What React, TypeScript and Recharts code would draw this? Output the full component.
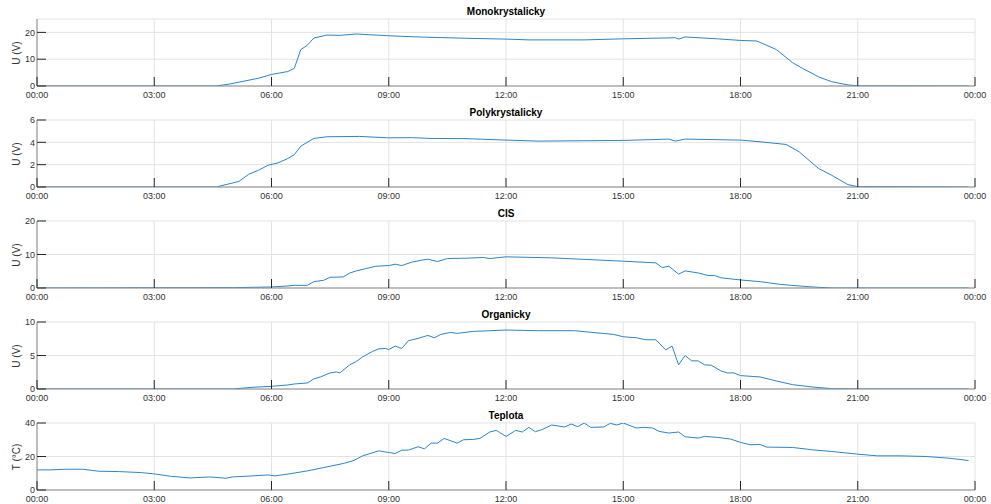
import { LineChart, Line, XAxis, YAxis, CartesianGrid } from 'recharts'

// x axis: hours of the day
const xTicks = [0, 3, 6, 9, 12, 15, 18, 21, 24]
const xTickLabels = ['00:00', '03:00', '06:00', '09:00', '12:00', '15:00', '18:00', '21:00', '00:00']

// Monokrystalicky panel
const monoTime = ['00:00', '04:35', '04:55', '05:40', '06:00', '06:25', '06:35', '06:45', '06:55', '07:05', '07:25', '07:45', '08:10', '09:00', '09:45', '11:00', '12:00', '12:35', '14:00', '15:00', '16:20', '16:25', '16:35', '17:25', '18:00', '18:25', '18:55', '19:20', '19:35', '20:00', '20:20', '20:45', '21:00', '23:50']
const monoU = [0, 0, 0.7, 2.9, 4.3, 5.4, 6.6, 13.6, 15.2, 17.9, 19.0, 18.9, 19.4, 18.75, 18.3, 17.8, 17.5, 17.2, 17.2, 17.6, 18.0, 17.5, 18.3, 17.6, 17.0, 16.8, 13.6, 8.7, 6.6, 3.4, 1.6, 0.4, 0.05, 0]

// Polykrystalicky panel
const polyTime = ['00:00', '04:35', '05:10', '05:25', '05:40', '05:55', '06:10', '06:25', '06:35', '06:45', '07:05', '07:25', '08:15', '09:00', '09:35', '10:05', '11:00', '12:00', '12:50', '15:00', '16:10', '16:20', '16:35', '18:00', '18:30', '19:10', '19:30', '20:00', '20:20', '20:45', '21:00', '23:50']
const polyU = [0, 0, 0.5, 1.14, 1.5, 1.95, 2.16, 2.55, 2.9, 3.66, 4.35, 4.5, 4.53, 4.4, 4.42, 4.35, 4.33, 4.2, 4.11, 4.17, 4.29, 4.11, 4.29, 4.2, 4.05, 3.81, 3.15, 1.65, 1.05, 0.21, 0.03, 0]

// CIS panel
const cisTime = ['00:00', '05:00', '06:00', '06:25', '06:35', '06:55', '07:05', '07:20', '07:30', '07:50', '08:00', '08:10', '08:25', '08:40', '09:00', '09:10', '09:20', '09:35', '09:50', '10:00', '10:15', '10:30', '11:00', '11:25', '11:35', '12:00', '13:10', '15:00', '15:50', '16:00', '16:10', '16:25', '16:35', '16:55', '17:10', '17:20', '17:30', '18:00', '18:30', '19:00', '19:30', '20:00', '20:20', '23:50']
const cisU = [0, 0.1, 0.3, 0.6, 0.8, 0.8, 1.9, 2.3, 3.2, 3.3, 4.45, 5.1, 5.8, 6.5, 6.7, 7.1, 6.7, 7.7, 8.3, 8.6, 7.9, 8.8, 8.9, 9.1, 8.8, 9.3, 9.0, 8.0, 7.5, 6.1, 6.5, 4.15, 5.1, 4.5, 3.75, 3.75, 3.05, 2.4, 1.9, 1.1, 0.6, 0.2, 0, 0]

// Organicky panel
const orgTime = ['00:00', '05:00', '05:30', '06:00', '06:25', '06:35', '06:55', '07:05', '07:15', '07:30', '07:40', '07:45', '08:00', '08:10', '08:20', '08:35', '08:45', '08:55', '09:00', '09:10', '09:20', '09:30', '09:45', '10:00', '10:10', '10:20', '10:35', '10:45', '11:10', '12:00', '12:50', '13:45', '14:45', '15:00', '15:20', '15:35', '15:50', '16:05', '16:15', '16:25', '16:35', '16:45', '16:55', '17:05', '17:15', '17:30', '17:40', '17:50', '18:00', '18:30', '18:55', '19:20', '19:50', '20:20', '21:00', '23:50']
const orgU = [0, 0, 0.25, 0.4, 0.6, 0.75, 0.9, 1.5, 1.8, 2.4, 2.55, 2.4, 3.6, 4.1, 4.8, 5.6, 6.0, 6.05, 5.9, 6.4, 6.05, 7.2, 7.55, 8.0, 7.65, 8.15, 8.45, 8.3, 8.6, 8.8, 8.7, 8.7, 8.15, 7.8, 7.65, 7.35, 7.35, 5.85, 6.4, 3.6, 5.0, 4.2, 4.2, 3.6, 3.55, 2.7, 2.4, 2.4, 2.0, 1.8, 1.2, 0.65, 0.3, 0.05, 0, 0]

// Teplota panel
const tempTime = ['00:00', '00:20', '00:45', '01:10', '01:35', '02:05', '02:40', '03:00', '03:25', '03:55', '04:25', '04:50', '05:00', '05:30', '05:55', '06:05', '06:30', '06:55', '07:20', '07:50', '08:05', '08:20', '08:45', '09:00', '09:10', '09:20', '09:30', '09:45', '09:55', '10:05', '10:15', '10:25', '10:45', '10:55', '11:10', '11:20', '11:35', '11:45', '11:50', '12:00', '12:15', '12:25', '12:35', '12:45', '12:55', '13:10', '13:30', '13:40', '13:50', '14:00', '14:10', '14:30', '14:40', '14:50', '15:00', '15:20', '15:30', '15:45', '15:55', '16:10', '16:25', '16:35', '16:55', '17:05', '17:25', '17:45', '18:00', '18:15', '18:30', '18:40', '19:20', '19:50', '20:20', '21:00', '21:30', '22:05', '22:45', '23:20', '23:50']
const tempC = [12.0, 12.0, 12.4, 12.4, 11.2, 11.0, 10.4, 9.6, 8.2, 7.2, 7.8, 7.0, 7.8, 8.4, 9.0, 8.4, 9.8, 11.4, 13.4, 15.8, 17.4, 20.4, 23.4, 22.4, 21.8, 23.8, 23.8, 25.8, 24.6, 28, 28, 30.8, 28, 30, 30.2, 30.8, 34.6, 35.6, 34.4, 32, 35.6, 34.6, 37.4, 34.8, 36, 38.8, 37.6, 39.4, 37.8, 40, 37.4, 37.6, 39.8, 38.8, 40, 37, 37.4, 37, 35, 34, 34.6, 31.8, 31, 32, 31.4, 30.4, 28.4, 27, 27.2, 25.6, 25.4, 24, 23, 21.4, 20.4, 20.4, 20, 19, 17.6]

const FONT = '"Liberation Sans", Arial, Helvetica, sans-serif'
const TICK = 9
const LINE_COLOR = '#2a85cc'
const TICK_COLOR = '#262626'
const TEXT_COLOR = '#333'
const BORDER = '#8a8a8a'

const toHours = (s: string) => {
  const [h, m] = s.split(':').map(Number)
  return h + m / 60
}

const buildRows = (times: string[], values: number[]) =>
  times.map((s, i) => ({ t: toHours(s), v: values[i] }))

function BottomTick({ x, y, payload }: any) {
  const label = xTickLabels[xTicks.indexOf(payload.value)]
  return (
    <g>
      <line x1={x} y1={y} x2={x} y2={y - TICK} stroke={TICK_COLOR} />
      <text x={x} y={y + 12} textAnchor="middle" fontSize={9} fill={TEXT_COLOR} fontFamily={FONT}>
        {label}
      </text>
    </g>
  )
}

function TopTick({ x, y }: any) {
  return <line x1={x} y1={y} x2={x} y2={y + TICK} stroke={TICK_COLOR} />
}

function LeftTick({ x, y, payload }: any) {
  return (
    <g>
      <line x1={x} y1={y} x2={x + TICK} y2={y} stroke={TICK_COLOR} />
      <text x={x - 2} y={y + 3.2} textAnchor="end" fontSize={9} fill={TEXT_COLOR} fontFamily={FONT}>
        {payload.value}
      </text>
    </g>
  )
}

function RightTick({ x, y }: any) {
  return <line x1={x - TICK} y1={y} x2={x} y2={y} stroke={TICK_COLOR} />
}

interface PanelProps {
  title: string
  yLabel: string
  rows: { t: number; v: number }[]
  yDomain: [number, number]
  yTicks: number[]
  top: number
}

function Panel({ title, yLabel, rows, yDomain, yTicks, top }: PanelProps) {
  return (
    <div style={{ position: 'absolute', left: 0, top, width: 991, height: 101 }}>
      <LineChart width={991} height={101} data={rows} margin={{ top: 19, right: 16, bottom: 0, left: 0 }}>
        <CartesianGrid stroke="#e3e3e3" />
        <XAxis
          dataKey="t"
          type="number"
          domain={[0, 24]}
          ticks={xTicks}
          interval={0}
          height={15}
          tickSize={0}
          tickMargin={0}
          tick={<BottomTick />}
          axisLine={{ stroke: BORDER }}
        />
        <XAxis
          xAxisId="top"
          orientation="top"
          dataKey="t"
          type="number"
          domain={[0, 24]}
          ticks={xTicks}
          interval={0}
          height={0}
          tickSize={0}
          tickMargin={0}
          tick={<TopTick />}
          axisLine={{ stroke: BORDER }}
        />
        <YAxis
          type="number"
          domain={yDomain}
          ticks={yTicks}
          interval={0}
          width={37}
          tickSize={0}
          tickMargin={0}
          tick={<LeftTick />}
          axisLine={{ stroke: BORDER }}
          allowDataOverflow
        />
        <YAxis
          yAxisId="right"
          orientation="right"
          type="number"
          domain={yDomain}
          ticks={yTicks}
          interval={0}
          width={0}
          tickSize={0}
          tickMargin={0}
          tick={<RightTick />}
          axisLine={{ stroke: BORDER }}
        />
        <Line
          type="linear"
          dataKey="v"
          stroke={LINE_COLOR}
          strokeWidth={1}
          dot={false}
          activeDot={false}
          isAnimationActive={false}
        />
      </LineChart>
      <div
        style={{
          position: 'absolute',
          left: 506,
          top: 6,
          transform: 'translateX(-50%)',
          fontFamily: FONT,
          fontWeight: 'bold',
          fontSize: 10,
          lineHeight: '12px',
          color: '#000',
          whiteSpace: 'nowrap',
        }}
      >
        {title}
      </div>
      <div
        style={{
          position: 'absolute',
          left: 17,
          top: 52.5,
          transform: 'translate(-50%, -50%) rotate(-90deg)',
          fontFamily: FONT,
          fontSize: 10,
          lineHeight: '12px',
          color: TEXT_COLOR,
          whiteSpace: 'nowrap',
        }}
      >
        {yLabel}
      </div>
    </div>
  )
}

export default function App() {
  return (
    <div
      style={{
        position: 'absolute',
        left: 0,
        top: 0,
        width: 991,
        height: 504,
        overflow: 'hidden',
        background: '#fff',
      }}
    >
      <Panel title="Monokrystalicky" yLabel="U (V)" rows={buildRows(monoTime, monoU)} yDomain={[0, 25]} yTicks={[0, 10, 20]} top={0} />
      <Panel title="Polykrystalicky" yLabel="U (V)" rows={buildRows(polyTime, polyU)} yDomain={[0, 6]} yTicks={[0, 2, 4, 6]} top={101} />
      <Panel title="CIS" yLabel="U (V)" rows={buildRows(cisTime, cisU)} yDomain={[0, 20]} yTicks={[0, 10, 20]} top={202} />
      <Panel title="Organicky" yLabel="U (V)" rows={buildRows(orgTime, orgU)} yDomain={[0, 10]} yTicks={[0, 5, 10]} top={303} />
      <Panel title="Teplota" yLabel="T (°C)" rows={buildRows(tempTime, tempC)} yDomain={[0, 40]} yTicks={[0, 20, 40]} top={404} />
    </div>
  )
}
